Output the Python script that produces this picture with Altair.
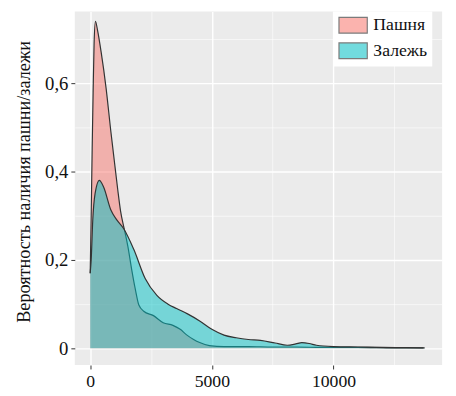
import altair as alt
import pandas as pd

categories = ["Пашня", "Залежь"]
colors = ["#F8766D", "#00BFC4"]

pashnya_x = [0, 40, 80, 120, 160, 215, 300, 450, 650, 850, 1000, 1130, 1250, 1400,
             1550, 1700, 1850, 2000, 2200, 2600, 3000, 3400, 3700, 3950, 4250, 4500,
             4900, 5500, 6500, 7500, 8500, 9500, 11000, 12500, 13700]
pashnya_y = [0.17, 0.30, 0.45, 0.58, 0.69, 0.74, 0.72, 0.67, 0.59, 0.49, 0.42, 0.36,
             0.31, 0.27, 0.23, 0.18, 0.135, 0.098, 0.084, 0.074, 0.058, 0.052, 0.043,
             0.031, 0.02, 0.013, 0.006, 0.004, 0.004, 0.003, 0.003, 0.002, 0.002,
             0.001, 0.001]

zalezh_x = [0, 40, 105, 200, 375, 550, 850, 1100, 1385, 1790, 2260, 2740, 3200, 3550,
            4000, 4500, 5000, 5500, 6000, 6500, 7000, 7600, 8100, 8450, 8700, 9000,
            9300, 10000, 11000, 12000, 13000, 13750]
zalezh_y = [0.17, 0.2, 0.29, 0.35, 0.38, 0.365, 0.313, 0.29, 0.27, 0.224, 0.158, 0.12,
            0.1, 0.09, 0.078, 0.062, 0.043, 0.03, 0.024, 0.02, 0.018, 0.012, 0.007,
            0.01, 0.013, 0.011, 0.007, 0.004, 0.003, 0.002, 0.0015, 0.001]

x_ticks = [0, 2500, 5000, 7500, 10000, 12500]
y_ticks = [0, 0.1, 0.2, 0.3, 0.4, 0.5, 0.6, 0.7]
y_title = "Вероятность наличия пашни/залежи"

df = pd.concat([
    pd.DataFrame({"x": pashnya_x, "y": pashnya_y, "g": categories[0]}),
    pd.DataFrame({"x": zalezh_x, "y": zalezh_y, "g": categories[1]}),
], ignore_index=True)

FONT = "Liberation Serif, Times New Roman, serif"

x_enc = alt.X(
    "x:Q",
    scale=alt.Scale(domain=[-634, 14466], nice=False, zero=False),
    axis=alt.Axis(
        values=x_ticks,
        labelExpr="datum.value % 5000 === 0 ? format(datum.value, 'd') : ''",
        grid=True,
        gridColor="white",
        gridWidth={"condition": {"test": "datum.value % 5000 === 0", "value": 1.4}, "value": 0.6},
        domain=False,
        tickColor="#333333",
        tickSize=4,
        tickOpacity={"condition": {"test": "datum.value % 5000 === 0", "value": 1}, "value": 0},
        labelFont=FONT,
        labelFontSize=18,
        labelColor="#111111",
        labelPadding=4,
        labelOverlap=False,
        labelFlush=False,
    ),
    title=None,
)

y_enc = alt.Y(
    "y:Q",
    stack=None,
    scale=alt.Scale(domain=[-0.0378, 0.7622], nice=False, zero=False),
    axis=alt.Axis(
        values=y_ticks,
        labelExpr="datum.value === 0 ? '0' : (round(datum.value * 10) % 2 === 0 ? replace(format(datum.value, '.1f'), '.', ',') : '')",
        grid=True,
        gridColor="white",
        gridWidth={"condition": {"test": "round(datum.value * 10) % 2 === 0", "value": 1.4}, "value": 0.6},
        domain=False,
        tickColor="#333333",
        tickSize=4,
        tickOpacity={"condition": {"test": "round(datum.value * 10) % 2 === 0", "value": 1}, "value": 0},
        labelFont=FONT,
        labelFontSize=19,
        labelColor="#111111",
        labelPadding=3,
        labelOverlap=False,
        labelFlush=False,
        titleFont=FONT,
        titleFontSize=18.5,
        titleFontWeight="normal",
        titleColor="#111111",
        titleX=-52,
        titleY=173,
        titleBaseline="middle",
        titleAngle=-90,
    ),
    title=y_title,
)

fill_enc = alt.Fill(
    "g:N",
    scale=alt.Scale(domain=categories, range=colors),
    legend=alt.Legend(
        orient="none",
        legendX=263,
        legendY=0,
        direction="vertical",
        fillColor="white",
        padding=5,
        symbolType="M-1,-1L2.6,-1L2.6,1L-1,1Z",
        symbolSize=256,
        symbolOpacity=0.55,
        symbolStrokeColor="#111111",
        symbolStrokeWidth=1.2,
        labelFont=FONT,
        labelFontSize=18,
        labelColor="#111111",
        labelOffset=18,
        rowPadding=4,
    ),
    title=None,
)

base = alt.Chart(df)


def area(cat):
    return base.transform_filter(alt.datum.g == cat).mark_area(
        fillOpacity=0.5, interpolate="monotone"
    ).encode(x=x_enc, y=y_enc, fill=fill_enc)


def line(cat):
    return base.transform_filter(alt.datum.g == cat).mark_line(
        color="#333333", strokeWidth=1.2, interpolate="monotone"
    ).encode(x=x_enc, y=y_enc)


chart = alt.layer(
    area(categories[0]), line(categories[0]),
    area(categories[1]), line(categories[1]),
).properties(
    width=374,
    height=360,
    autosize=alt.AutoSizeParams(type="none"),
    padding={"left": 68, "top": 0, "right": 6, "bottom": 28},
).configure_view(fill="#EBEBEB", strokeWidth=0)

chart.save("out.html", embed_options={"renderer": "svg", "actions": False})
